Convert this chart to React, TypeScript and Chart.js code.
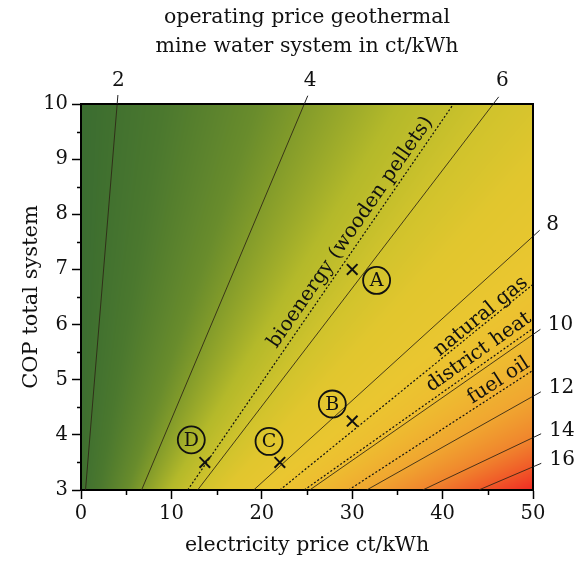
import React, { useEffect, useRef } from 'react';
import { Chart, registerables } from 'chart.js';

Chart.register(...registerables);

// ---- data ----
const contourLevels = [2, 4, 6, 8, 10, 12, 14, 16];
const contourStartX = [0.5, 6.7, 12.9, 19.1, 25.3, 31.6, 37.8, 44.0];
const contourStartY = [3, 3, 3, 3, 3, 3, 3, 3];
const contourEndX = [4.0, 24.7, 45.6, 50, 50, 50, 50, 50];
const contourEndY = [10, 10, 10, 7.6, 5.82, 4.7, 3.95, 3.42];

const refNames = ['bioenergy (wooden pellets)', 'natural gas', 'district heat', 'fuel oil'];
const refStartX = [11.8, 22.0, 24.7, 29.6];
const refStartY = [3, 3, 3, 3];
const refEndX = [41.2, 50, 50, 50];
const refEndY = [10, 6.73, 5.93, 5.17];

const caseNames = ['A', 'B', 'C', 'D'];
const caseX = [30, 30, 22, 13.7];
const caseY = [7, 4.25, 3.5, 3.5];
const caseLabelX = [32.7, 27.8, 20.8, 12.2];
const caseLabelY = [6.8, 4.56, 3.88, 3.91];

const xMinorTicks = [5, 15, 25, 35, 45];
const yMinorTicks = [3.5, 4.5, 5.5, 6.5, 7.5, 8.5, 9.5];

const titleLines = ['operating price geothermal', 'mine water system in ct/kWh'];
const xTitle = 'electricity price ct/kWh';
const yTitle = 'COP total system';

// ---- styles ----
const SERIF = '"DejaVu Serif", serif';
const colorStopP = [1.6, 2.5, 3.5, 4, 5, 6, 7, 8.5, 10, 12, 14, 16, 18];
const colorStopRGB = [
  [58, 108, 48], [75, 120, 46], [105, 140, 44], [130, 155, 42], [180, 185, 42], [208, 195, 44],
  [225, 198, 46], [234, 198, 48], [238, 188, 48], [240, 165, 48], [240, 132, 45], [240, 88, 40], [240, 40, 35],
];
const refLabelT = [0.65, 0.814, 0.793, 0.843];
const refLabelOff = [12, 8, 12, 10];

function colorFor(p: number): number[] {
  if (p <= colorStopP[0]) return colorStopRGB[0];
  const n = colorStopP.length;
  if (p >= colorStopP[n - 1]) return colorStopRGB[n - 1];
  let k = 0;
  while (k < n - 2 && p > colorStopP[k + 1]) k++;
  const t = (p - colorStopP[k]) / (colorStopP[k + 1] - colorStopP[k]);
  const a = colorStopRGB[k], b = colorStopRGB[k + 1];
  return [a[0] + (b[0] - a[0]) * t, a[1] + (b[1] - a[1]) * t, a[2] + (b[2] - a[2]) * t];
}

const bgPlugin = {
  id: 'bgField',
  beforeDraw(chart: any) {
    const { ctx, chartArea: a, scales } = chart;
    const xs = scales.x, ys = scales.y;
    const w = Math.round(a.right - a.left), h = Math.round(a.bottom - a.top);
    const img = ctx.createImageData(w, h);
    for (let j = 0; j < h; j++) {
      const yv = ys.getValueForPixel(a.top + j + 0.5);
      const cx = contourLevels.map((_, i) =>
        contourStartX[i] + (yv - contourStartY[i]) * (contourEndX[i] - contourStartX[i]) / (contourEndY[i] - contourStartY[i]));
      for (let i = 0; i < w; i++) {
        const xv = xs.getValueForPixel(a.left + i + 0.5);
        let k = 0;
        while (k < cx.length - 2 && xv > cx[k + 1]) k++;
        const p = contourLevels[k] + (xv - cx[k]) * (contourLevels[k + 1] - contourLevels[k]) / (cx[k + 1] - cx[k]);
        const c = colorFor(p);
        const o = (j * w + i) * 4;
        img.data[o] = c[0]; img.data[o + 1] = c[1]; img.data[o + 2] = c[2]; img.data[o + 3] = 255;
      }
    }
    const off = document.createElement('canvas');
    off.width = w; off.height = h;
    (off.getContext('2d') as CanvasRenderingContext2D).putImageData(img, 0, 0);
    ctx.drawImage(off, a.left, a.top);
  },
};

const overlayPlugin = {
  id: 'overlay',
  afterDraw(chart: any) {
    const { ctx, chartArea: a, scales } = chart;
    const xs = scales.x, ys = scales.y;
    ctx.save();
    // frame top/right
    ctx.strokeStyle = '#000';
    ctx.lineWidth = 2;
    ctx.beginPath();
    ctx.moveTo(a.left, a.top); ctx.lineTo(a.right, a.top); ctx.lineTo(a.right, a.bottom);
    ctx.stroke();
    // minor ticks
    ctx.lineWidth = 1.5;
    ctx.beginPath();
    xMinorTicks.forEach((v) => {
      const px = Math.round(xs.getPixelForValue(v)) + 0.5;
      ctx.moveTo(px, a.bottom); ctx.lineTo(px, a.bottom + 5);
    });
    yMinorTicks.forEach((v) => {
      const py = Math.round(ys.getPixelForValue(v)) + 0.5;
      ctx.moveTo(a.left, py); ctx.lineTo(a.left - 4, py);
    });
    ctx.stroke();

    // contour extensions + labels
    ctx.fillStyle = '#111';
    ctx.font = `20px ${SERIF}`;
    contourLevels.forEach((lv, i) => {
      const x0 = xs.getPixelForValue(contourStartX[i]), y0 = ys.getPixelForValue(contourStartY[i]);
      const x1 = xs.getPixelForValue(contourEndX[i]), y1 = ys.getPixelForValue(contourEndY[i]);
      const len = Math.hypot(x1 - x0, y1 - y0);
      const ux = (x1 - x0) / len, uy = (y1 - y0) / len;
      const ex = x1 + ux * 9, ey = y1 + uy * 9;
      ctx.strokeStyle = '#222';
      ctx.lineWidth = 1;
      ctx.beginPath(); ctx.moveTo(x1, y1); ctx.lineTo(ex, ey); ctx.stroke();
      if (contourEndY[i] >= 10) {
        ctx.textAlign = 'center'; ctx.textBaseline = 'middle';
        ctx.fillText(String(lv), ex + ux * 6, 81);
      } else {
        ctx.textAlign = 'left'; ctx.textBaseline = 'middle';
        ctx.fillText(String(lv), ex + ux * 9, ey + uy * 8);
      }
    });

    // reference labels
    ctx.font = `20px ${SERIF}`;
    refNames.forEach((name, i) => {
      const x0 = xs.getPixelForValue(refStartX[i]), y0 = ys.getPixelForValue(refStartY[i]);
      const x1 = xs.getPixelForValue(refEndX[i]), y1 = ys.getPixelForValue(refEndY[i]);
      const len = Math.hypot(x1 - x0, y1 - y0);
      const ux = (x1 - x0) / len, uy = (y1 - y0) / len;
      const nx = uy, ny = -ux;
      const cxp = x0 + ux * len * refLabelT[i] + nx * refLabelOff[i];
      const cyp = y0 + uy * len * refLabelT[i] + ny * refLabelOff[i];
      ctx.save();
      ctx.translate(cxp, cyp);
      ctx.rotate(Math.atan2(uy, ux));
      ctx.textAlign = 'center'; ctx.textBaseline = 'middle';
      ctx.fillStyle = '#111';
      ctx.fillText(name, 0, 0);
      ctx.restore();
    });

    // circled case labels
    caseNames.forEach((nm, i) => {
      const px = xs.getPixelForValue(caseLabelX[i]), py = ys.getPixelForValue(caseLabelY[i]);
      ctx.beginPath();
      ctx.arc(px, py, 13.5, 0, Math.PI * 2);
      ctx.lineWidth = 1.8; ctx.strokeStyle = '#111'; ctx.stroke();
      ctx.font = `19px ${SERIF}`;
      ctx.textAlign = 'center'; ctx.textBaseline = 'middle';
      ctx.fillStyle = '#111';
      ctx.fillText(nm, px, py + 1);
    });

    // top title
    ctx.font = `20.5px ${SERIF}`;
    ctx.textAlign = 'center'; ctx.textBaseline = 'middle';
    ctx.fillStyle = '#111';
    const mid = (a.left + a.right) / 2;
    ctx.fillText(titleLines[0], mid, 18);
    ctx.fillText(titleLines[1], mid, 47);
    ctx.restore();
  },
};

export default function App() {
  const ref = useRef<HTMLCanvasElement | null>(null);
  useEffect(() => {
    document.body.style.margin = '0';
    const canvas = ref.current;
    if (!canvas) return;
    const datasets: any[] = [];
    contourLevels.forEach((lv, i) => {
      datasets.push({
        label: 'contour ' + lv,
        data: [{ x: contourStartX[i], y: contourStartY[i] }, { x: contourEndX[i], y: contourEndY[i] }],
        showLine: true, borderColor: 'rgba(45,35,20,0.85)', borderWidth: 1, pointRadius: 0,
      });
    });
    refNames.forEach((nm, i) => {
      datasets.push({
        label: nm,
        data: [{ x: refStartX[i], y: refStartY[i] }, { x: refEndX[i], y: refEndY[i] }],
        showLine: true, borderColor: '#111', borderWidth: 1.2, borderDash: [2, 2], pointRadius: 0,
      });
    });
    datasets.push({
      label: 'cases',
      data: caseX.map((x, i) => ({ x, y: caseY[i] })),
      showLine: false, pointStyle: 'crossRot', pointRadius: 7.5, borderColor: '#111', borderWidth: 2,
      backgroundColor: '#111',
    });
    const chart = new Chart(canvas, {
      type: 'scatter',
      data: { datasets },
      plugins: [bgPlugin, overlayPlugin],
      options: {
        animation: false,
        responsive: false,
        events: [],
        layout: { padding: { top: 104, right: 51, left: 0, bottom: 0 } },
        plugins: { legend: { display: false }, tooltip: { enabled: false }, title: { display: false } },
        scales: {
          x: {
            type: 'linear', min: 0, max: 50,
            ticks: { stepSize: 10, color: '#111', font: { family: SERIF, size: 19.5 }, padding: 3, maxRotation: 0 },
            grid: { drawOnChartArea: false, tickLength: 9, color: '#000', tickWidth: 1.5 },
            border: { display: true, color: '#000', width: 2 },
            title: { display: true, text: xTitle, color: '#111', font: { family: SERIF, size: 20.5 }, padding: { top: 0, bottom: 4 } },
            afterFit(s: any) { s.height = 72; },
          },
          y: {
            type: 'linear', min: 3, max: 10,
            ticks: { stepSize: 1, color: '#111', font: { family: SERIF, size: 19.5 }, padding: 4 },
            grid: { drawOnChartArea: false, tickLength: 9, color: '#000', tickWidth: 1.5 },
            border: { display: true, color: '#000', width: 2 },
            title: { display: true, text: yTitle, color: '#111', font: { family: SERIF, size: 21 }, padding: { top: 19, bottom: 0 } },
            afterFit(s: any) { s.width = 81; },
          },
        },
      } as any,
    });
    return () => chart.destroy();
  }, []);
  return (
    <div style={{ width: 584, height: 562 }}>
      <canvas ref={ref} width={584} height={562} style={{ display: 'block', width: 584, height: 562 }} />
    </div>
  );
}
